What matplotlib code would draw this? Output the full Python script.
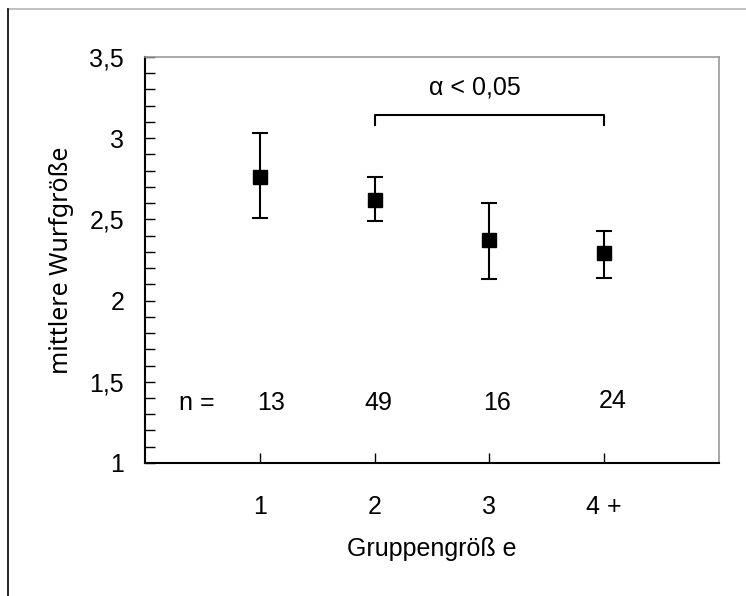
import matplotlib.pyplot as plt
from matplotlib.lines import Line2D
from matplotlib.ticker import MultipleLocator, FuncFormatter

groups = [1, 2, 3, 4]
group_labels = ["1", "2", "3", "4 +"]
means = [2.76, 2.62, 2.37, 2.29]
upper = [3.03, 2.76, 2.60, 2.43]
lower = [2.51, 2.49, 2.13, 2.14]
n_values = ["13", "49", "16", "24"]
n_x = [1.1, 2.03, 3.07, 4.07]
n_y = [1.37, 1.37, 1.37, 1.38]

plt.rcParams["font.family"] = ["Liberation Sans", "DejaVu Sans"]

fig = plt.figure(figsize=(7.46, 5.96), dpi=100)
ax = fig.add_axes([0.1944, 0.2232, 0.7694, 0.6812])

err = [[m - lo for m, lo in zip(means, lower)], [up - m for m, up in zip(means, upper)]]
ax.errorbar(groups, means, yerr=err, fmt="s", color="black", markersize=10,
            elinewidth=1.5, capsize=6, capthick=1.5)

# signifikanz-klammer zwischen 2 und 4+
ax.plot([2, 2, 4, 4], [3.08, 3.143, 3.143, 3.08], color="black", linewidth=1.5)
ax.text(2.87, 3.315, "\u03b1 < 0,05", ha="center", va="center", fontsize=18)

ax.text(0.45, 1.37, "n =", ha="center", va="center", fontsize=18)
for x, y, n in zip(n_x, n_y, n_values):
    ax.text(x, y, n, ha="center", va="center", fontsize=18)

ax.set_xlim(0, 5)
ax.set_ylim(1, 3.5)
ax.set_xticks(groups)
ax.set_xticklabels(group_labels)
ax.yaxis.set_major_locator(MultipleLocator(0.5))
ax.yaxis.set_minor_locator(MultipleLocator(0.1))
ax.yaxis.set_major_formatter(FuncFormatter(lambda v, p: f"{v:g}".replace(".", ",")))
ax.tick_params(axis="both", direction="in", labelsize=18, width=1, length=7, color="black")
ax.tick_params(axis="y", which="minor", direction="in", width=1, length=7)
ax.tick_params(axis="y", pad=15)
ax.tick_params(axis="x", pad=23)

for side in ["left", "bottom"]:
    ax.spines[side].set_linewidth(1.5)
    ax.spines[side].set_color("black")
for side in ["top", "right"]:
    ax.spines[side].set_linewidth(1.2)
    ax.spines[side].set_color("#9a9a9a")

ax.set_ylabel("mittlere Wurfgröße", fontsize=18, family=["Noto Sans", "DejaVu Sans"], labelpad=11)
ax.set_xlabel("Gruppengröß e", fontsize=18, labelpad=13)

# rahmenlinien am bildrand
fig.add_artist(Line2D([8 / 746, 1], [1 - 9 / 596, 1 - 9 / 596], color="#b5b5b5", linewidth=1.2))
fig.add_artist(Line2D([8 / 746, 8 / 746], [0, 1 - 9 / 596], color="black", linewidth=1.2))

fig.savefig("out.png", dpi=100)
plt.close(fig)
